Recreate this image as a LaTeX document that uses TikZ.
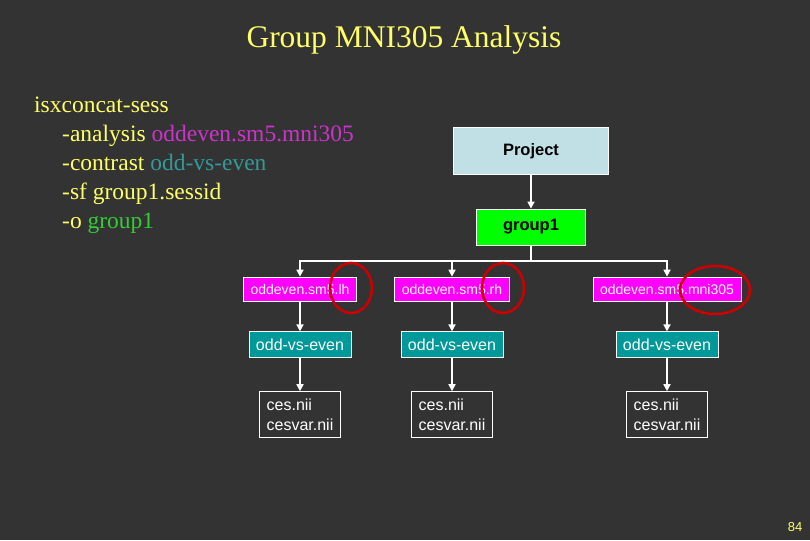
\documentclass[tikz,border=0pt]{standalone}
\usepackage{fontspec}
\setmainfont{Liberation Serif}
\setsansfont{Liberation Sans}
\usetikzlibrary{arrows.meta,positioning}
\definecolor{Slate}{HTML}{333333}
\definecolor{Straw}{HTML}{FFFF66}
\definecolor{Orchid}{HTML}{CC33CC}
\definecolor{Sea}{HTML}{339999}
\definecolor{Lime}{HTML}{33CC33}
\definecolor{Sky}{HTML}{C0E0E6}
\definecolor{Fuchsia}{HTML}{FF00FF}
\definecolor{Teal}{HTML}{009999}
\definecolor{Alarm}{HTML}{CC0000}

\begin{document}
\begin{tikzpicture}[x=1pt, y=-1pt, >={Triangle[length=7pt,width=7pt]}, node distance=30pt]
\tikzset{box/.style={draw=white, line width=0.8pt, inner ysep=0pt, align=center, font=\sffamily\fontsize{16}{20}\selectfont}, top/.style={box, font=\sffamily\bfseries\fontsize{16.5}{18}\selectfont, text=black}, run/.style={box, fill=Fuchsia, text=white, minimum height=24pt, inner xsep=7pt, font=\sffamily\fontsize{14}{17}\selectfont}, con/.style={box, fill=Teal, text=white, minimum height=26pt, inner xsep=7pt}, result/.style={box, fill=Slate, text=white, align=left, minimum height=46pt, inner xsep=7.5pt}, link/.style={->, white, line width=1.6pt}, circ/.style={Alarm, line width=2.6pt}}
\fill[Slate] (0,0) rectangle (810,540);
\node[text=Straw, font=\fontsize{31.5}{34}\selectfont] (title) at (404,40) {Group MNI305 Analysis};
\node[text=Straw, anchor=north west, align=left, inner sep=0pt, font=\fontsize{23.5}{29}\selectfont] (cmd) at (34,97) {isxconcat-sess\\
\hspace*{28pt}-analysis \textcolor{Orchid}{oddeven.sm5.mni305}\\
\hspace*{28pt}-contrast \textcolor{Sea}{odd-vs-even}\\
\hspace*{28pt}-sf group1.sessid\\
\hspace*{28pt}-o \textcolor{Lime}{group1}};
\node[top, fill=Sky, minimum width=155pt, minimum height=47pt] (project) at (531,151) {Project};
\node[top, fill=green, minimum width=109pt, minimum height=36pt] (group) at (531,227) {group1};
\coordinate (split) at (531,261);
% analyses
\node[run] (lh) at (300,289) {oddeven.sm5.lh};
\node[run] (rh) at (452,289) {oddeven.sm5.rh};
\node[run] (mni) at (667,289) {oddeven.sm5.mni305};
% contrasts
\node[con, below=of lh] (clh) {odd-vs-even};
\node[con, below=of rh] (crh) {odd-vs-even};
\node[con, below=of mni] (cmni) {odd-vs-even};
% outputs
\node[result, below=33pt of clh] (olh) {ces.nii\\cesvar.nii};
\node[result, below=33pt of crh] (orh) {ces.nii\\cesvar.nii};
\node[result, below=33pt of cmni] (omni) {ces.nii\\cesvar.nii};
\draw[link] (project) -- (group);
\draw[white, line width=1.6pt] (group) -- (split);
\foreach \n in {lh,rh,mni} \draw[link] (split) -| (\n.north);
\foreach \a/\b in {lh/clh,clh/olh,rh/crh,crh/orh,mni/cmni,cmni/omni} \draw[link] (\a) -- (\b);
\draw[circ] (351,288) ellipse (21 and 25);
\draw[circ] (503,288) ellipse (21 and 25);
\draw[circ] (715,290) ellipse (35 and 24);
\node[text=Straw, font=\sffamily\fontsize{13}{15}\selectfont] (page) at (795,527) {84};
\end{tikzpicture}
\end{document}
